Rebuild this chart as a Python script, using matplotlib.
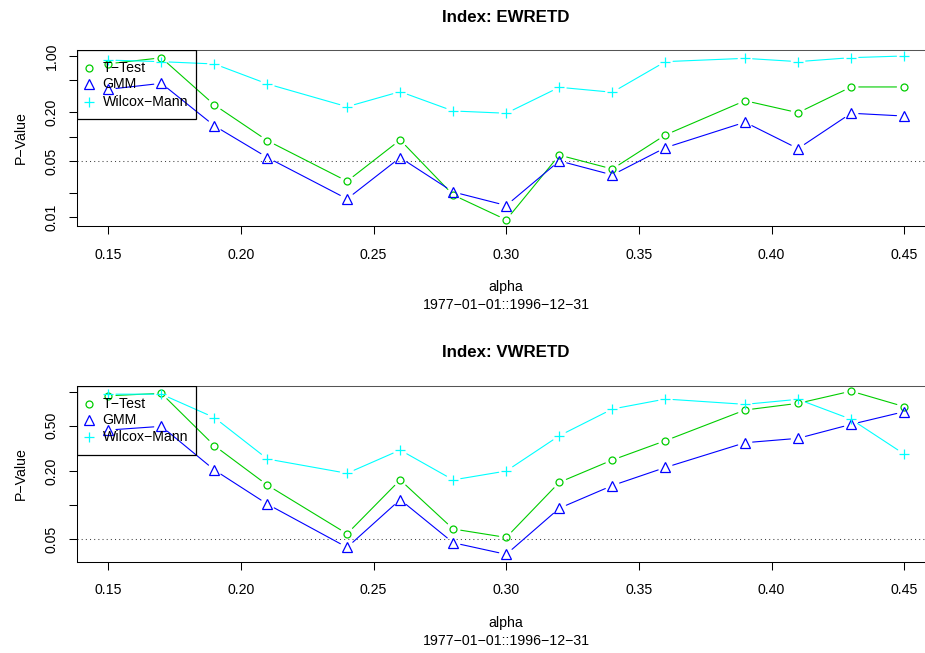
import matplotlib
matplotlib.use("Agg")
import matplotlib.pyplot as plt
from matplotlib.patches import Rectangle

plt.rcParams['font.family'] = ['Liberation Sans', 'DejaVu Sans']

alpha = [0.15, 0.17, 0.19, 0.21, 0.24, 0.26, 0.28, 0.30, 0.32, 0.34, 0.36, 0.39, 0.41, 0.43, 0.45]

ew_ttest = [0.80, 0.95, 0.247, 0.089, 0.028, 0.091, 0.0189, 0.0093, 0.059, 0.0397, 0.105, 0.279, 0.198, 0.413, 0.413]
ew_gmm = [0.386, 0.458, 0.136, 0.055, 0.0169, 0.055, 0.0206, 0.0140, 0.050, 0.0335, 0.073, 0.151, 0.071, 0.195, 0.180]
ew_wilcox = [0.89, 0.85, 0.796, 0.450, 0.235, 0.361, 0.208, 0.195, 0.409, 0.355, 0.851, 0.935, 0.851, 0.953, 1.00]

vw_ttest = [0.92, 0.966, 0.334, 0.150, 0.056, 0.167, 0.0617, 0.052, 0.159, 0.250, 0.370, 0.689, 0.789, 1.01, 0.738]
vw_gmm = [0.459, 0.495, 0.204, 0.102, 0.0425, 0.112, 0.0467, 0.0369, 0.094, 0.149, 0.215, 0.355, 0.388, 0.515, 0.666]
vw_wilcox = [0.95, 0.95, 0.590, 0.255, 0.191, 0.306, 0.167, 0.200, 0.409, 0.703, 0.861, 0.773, 0.856, 0.571, 0.282]

series_names = ["T\u2212Test", "GMM", "Wilcox\u2212Mann"]
titles = ["Index: EWRETD", "Index: VWRETD"]
xlabel = "alpha"
sublabel = "1977\u221201\u221201::1996\u221212\u221231"
ylabel = "P\u2212Value"
xticks = [0.15, 0.20, 0.25, 0.30, 0.35, 0.40, 0.45]
yticks_top = [0.01, 0.02, 0.05, 0.1, 0.2, 0.5, 1.0]
ylabels_top = ["0.01", "", "0.05", "", "0.20", "", "1.00"]
yticks_bot = [0.05, 0.1, 0.2, 0.5, 1.0]
ylabels_bot = ["0.05", "", "0.20", "0.50", ""]
threshold = 0.05

colors = ["#00CD00", "#0000FF", "#00FFFF"]
markers = ["o", "^", "+"]
msizes = [5.0, 6.5, 7.0]

W, H = 925, 653
fig = plt.figure(figsize=(W / 100, H / 100), dpi=100)
FS = 10.2

def px_rect(l, t, r, b):
    return [l / W, 1 - b / H, (r - l) / W, (b - t) / H]

panels = [
    dict(rect=px_rect(76.5, 50, 936, 226), data=[ew_ttest, ew_gmm, ew_wilcox],
         ylim=(0.0078, 1.186), yt=yticks_top, yl=ylabels_top, title=titles[0]),
    dict(rect=px_rect(76.5, 385.7, 936, 561.7), data=[vw_ttest, vw_gmm, vw_wilcox],
         ylim=(0.0318, 1.128), yt=yticks_bot, yl=ylabels_bot, title=titles[1]),
]

for p in panels:
    ax = fig.add_axes(p["rect"])
    ax.set_yscale("log")
    ax.set_xlim(0.138, 0.462)
    ax.set_ylim(*p["ylim"])
    ax.minorticks_off()
    ax.set_xticks(xticks)
    ax.set_xticklabels(["%.2f" % v for v in xticks])
    ax.set_yticks(p["yt"])
    ax.set_yticklabels(p["yl"], rotation=90, va="center")
    ax.tick_params(axis="both", length=6, width=0.75, labelsize=FS, direction="out", color="black")
    ax.tick_params(axis="x", pad=9.5)
    ax.tick_params(axis="y", pad=7)
    for s in ax.spines.values():
        s.set_linewidth(0.75)
        s.set_color("black")
    ax.spines["top"].set_color("#555555")
    ax.axhline(threshold, color="#444444", lw=0.75, linestyle=(0, (1, 3)), zorder=1)

    for vals, c, m, ms in zip(p["data"], colors, markers, msizes):
        ax.plot(alpha, vals, linestyle="none", marker=m, markersize=ms,
                markerfacecolor="none", markeredgecolor=c, markeredgewidth=0.9, zorder=3)
        for i in range(len(alpha) - 1):
            ax.annotate("", xy=(alpha[i + 1], vals[i + 1]), xytext=(alpha[i], vals[i]),
                        xycoords="data", textcoords="data",
                        arrowprops=dict(arrowstyle="-", color=c, lw=0.8,
                                        shrinkA=5.5, shrinkB=5.5), zorder=2)

    # legend (transparent, R style)
    ax.add_patch(Rectangle((0.0, 0.608), 0.139, 0.392, transform=ax.transAxes,
                           fill=False, edgecolor="black", lw=0.9, zorder=4))
    for k, (name, c, m, ms) in enumerate(zip(series_names, colors, markers, msizes)):
        yy = [0.898, 0.806, 0.706][k]
        ax.plot([0.0145], [yy], transform=ax.transAxes, marker=m, markersize=ms,
                markerfacecolor="none", markeredgecolor=c, markeredgewidth=0.9,
                linestyle="none", zorder=5, clip_on=False)
        ax.text(0.0305, yy, name, transform=ax.transAxes, fontsize=FS,
                va="center", ha="left", color="black", zorder=5)

    ax.set_title(p["title"], fontsize=12.2, fontweight="bold", pad=20.5)
    ax.set_ylabel(ylabel, fontsize=FS, labelpad=12)
    ax.text(0.5, -0.348, xlabel, transform=ax.transAxes, ha="center", va="center", fontsize=FS)
    ax.text(0.5, -0.448, sublabel, transform=ax.transAxes, ha="center", va="center", fontsize=FS)

fig.savefig("out.png", dpi=100)
